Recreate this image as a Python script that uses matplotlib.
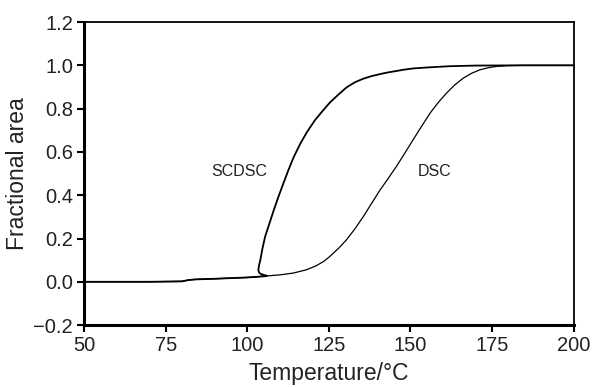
import matplotlib
matplotlib.use("Agg")
import matplotlib.pyplot as plt

plt.rcParams['font.family'] = ['Liberation Sans', 'DejaVu Sans']

# DSC curve (temperature, fractional area)
dsc_T = [50, 70, 80, 82, 84, 90, 100, 106, 110, 114, 118, 121, 123.5, 125.3, 128, 130.4,
         133, 135.5, 138, 140.6, 143.2, 145.7, 148.3, 150.8, 153.4, 156.0, 158.5,
         161.0, 163.6, 166.1, 168.7, 171.2, 173.8, 176.3, 180, 185, 200]
dsc_y = [0.0, 0.0, 0.002, 0.008, 0.011, 0.014, 0.020, 0.027, 0.032, 0.040, 0.055, 0.073,
         0.095, 0.117, 0.155, 0.194, 0.245, 0.300, 0.360, 0.422, 0.478, 0.533, 0.595,
         0.656, 0.718, 0.779, 0.828, 0.871, 0.910, 0.940, 0.963, 0.979, 0.989, 0.995,
         0.999, 1.0, 1.0]

# SCDSC curve (temperature, fractional area) - curls back near onset
sc_T = [50, 70, 80, 82, 84, 90, 100, 104, 105.5, 106, 105.2, 104.2, 103.6, 103.4, 103.6,
        104.0, 104.6, 105.5, 106.8, 108.1, 109.6, 111.1, 112.6, 114.2, 116.2, 118.3,
        120.8, 123.4, 125.3, 128, 130.4, 133, 135.5, 138, 140.8, 143, 145.7, 148, 151,
        156, 162, 170, 185, 200]
sc_y = [0.0, 0.0, 0.002, 0.008, 0.011, 0.014, 0.020, 0.024, 0.026, 0.028, 0.031, 0.036,
        0.043, 0.055, 0.075, 0.10, 0.15, 0.21, 0.27, 0.33, 0.395, 0.456, 0.516, 0.575,
        0.637, 0.692, 0.748, 0.795, 0.828, 0.866, 0.898, 0.922, 0.938, 0.950, 0.960,
        0.967, 0.974, 0.980, 0.986, 0.991, 0.996, 0.999, 1.0, 1.0]

x_ticks = [50, 75, 100, 125, 150, 175, 200]
y_ticks = [-0.2, 0.0, 0.2, 0.4, 0.6, 0.8, 1.0, 1.2]

fig = plt.figure(figsize=(5.92, 3.87), dpi=100)
ax = fig.add_axes([0.142, 0.160, 0.827, 0.783])

ax.plot(dsc_T, dsc_y, color='black', lw=0.9)
ax.plot(sc_T, sc_y, color='black', lw=1.3)

ax.text(97.4, 0.508, 'SCDSC', fontsize=11.5, ha='center', va='center', color='#222222')
ax.text(157.4, 0.508, 'DSC', fontsize=11.5, ha='center', va='center', color='#222222')

ax.set_xlim(50, 200)
ax.set_ylim(-0.2, 1.2)
ax.set_xticks(x_ticks)
ax.set_yticks(y_ticks)
ax.set_yticklabels([f"{v:.1f}".replace('-', '\u2212') for v in y_ticks])
ax.set_xlabel('Temperature/°C', fontsize=16.5, labelpad=5, color='#222222')
ax.set_ylabel('Fractional area', fontsize=16.5, labelpad=3, color='#222222')
ax.tick_params(axis='both', labelsize=14.5, direction='out', length=5, width=1.5,
               top=False, right=False, pad=3, labelcolor='#222222')
ax.spines['left'].set_linewidth(2.2)
ax.spines['bottom'].set_linewidth(2.2)
ax.spines['top'].set_linewidth(1.3)
ax.spines['right'].set_linewidth(1.3)

fig.savefig('out.png', dpi=100)
